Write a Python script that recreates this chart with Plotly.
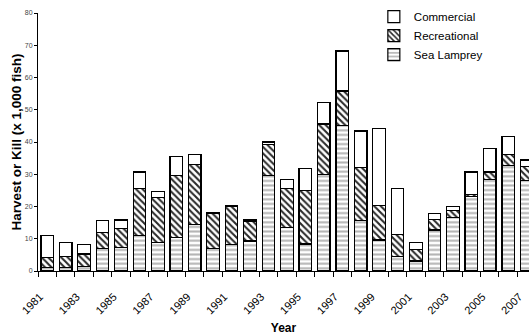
import plotly.graph_objects as go

years = list(range(1981, 2008))
sea_lamprey = [1.0, 1.2, 1.3, 7.0, 7.3, 11.1, 8.8, 10.4, 14.5, 7.0, 8.3, 9.3, 29.6, 13.5,
               8.4, 29.9, 45.0, 15.6, 9.6, 4.6, 3.1, 12.7, 16.6, 23.0, 28.4, 32.6, 28.0]
recreational = [3.1, 3.2, 4.0, 4.9, 5.8, 14.5, 13.9, 19.1, 18.6, 10.8, 11.6, 6.2, 9.7, 12.0,
                16.5, 15.7, 10.8, 16.5, 10.6, 6.8, 3.6, 3.2, 2.2, 0.8, 2.3, 3.5, 4.3]
commercial = [7.0, 4.4, 3.0, 3.7, 2.7, 5.1, 1.9, 6.1, 3.1, 0.4, 0.4, 0.3, 0.7, 2.9,
              6.8, 6.6, 12.4, 11.3, 24.1, 14.2, 2.2, 1.9, 1.1, 6.9, 7.3, 5.5, 2.1]
label_years = years[::2]

FONT = "Liberation Sans, Arial, sans-serif"
line = dict(color="black", width=1.2)
LABEL_SHIFT = 0.4  # rotated labels end slightly left of the category centre

fig = go.Figure()
fig.add_trace(go.Bar(
    x=years, y=sea_lamprey, name="Sea Lamprey",
    marker=dict(color="white", line=line,
                pattern=dict(shape="-", fgcolor="#b5b5b5", bgcolor="white",
                             size=4.6, solidity=0.45, fillmode="replace")),
))
fig.add_trace(go.Bar(
    x=years, y=recreational, name="Recreational",
    marker=dict(color="white", line=line,
                pattern=dict(shape="\\", fgcolor="#2a2a2a", bgcolor="white",
                             size=4.6, solidity=0.45, fillmode="replace")),
))
fig.add_trace(go.Bar(
    x=years, y=commercial, name="Commercial",
    marker=dict(color="white", line=line),
))

boundaries = [y - 0.5 for y in years] + [years[-1] + 0.5]

fig.update_layout(
    width=529, height=335,
    margin=dict(l=38, r=0, t=13, b=64, autoexpand=False),
    barmode="stack", bargap=0.32,
    plot_bgcolor="white", paper_bgcolor="white",
    font=dict(family=FONT, color="black"),
    showlegend=True,
    legend=dict(traceorder="reversed",
                x=0.684, y=1.042, xanchor="left", yanchor="top",
                bgcolor="rgba(0,0,0,0)", font=dict(size=11.5, family=FONT)),
    xaxis=dict(
        range=[1980.5, 2007.13], showgrid=False, zeroline=False,
        showline=True, linecolor="black", linewidth=1,
        tickmode="array", tickvals=[y - LABEL_SHIFT for y in label_years],
        ticktext=[str(y) for y in label_years],
        ticks="", tickangle=-45, tickfont=dict(size=11, family=FONT),
        ticklabelstandoff=14, ticklabeloverflow="allow", automargin=False,
        minor=dict(tickmode="array", tickvals=boundaries, ticks="outside",
                   ticklen=5, tickcolor="black", tickwidth=1, showgrid=False),
        title=dict(text="<b>Year</b>", font=dict(size=12, family=FONT), standoff=10),
    ),
    yaxis=dict(
        range=[0, 80], dtick=10, showgrid=False, zeroline=False,
        showline=True, linecolor="black", linewidth=1, automargin=False,
        ticks="outside", ticklen=3, tickcolor="black",
        tickfont=dict(size=7, family=FONT, color="#444444"),
        title=dict(text="<b>Harvest or Kill (x 1,000 fish)</b>",
                   font=dict(size=13.5, family=FONT), standoff=0),
    ),
)

fig.write_html("out.html", config={"displayModeBar": False},
               post_script="document.body.style.margin='0px';")
